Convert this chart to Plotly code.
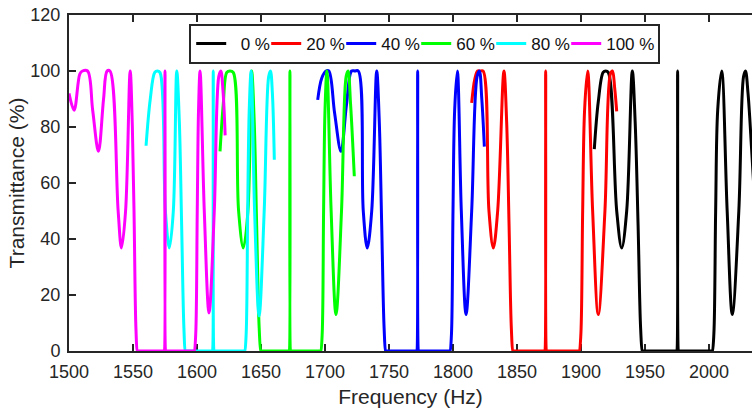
import plotly.graph_objects as go

# Transmittance spectra (%) versus frequency (Hz) for each filling ratio
labels = ["\u00a0\u00a00 %", "20 %", "40 %", "60 %", "80 %", "100 %"]
colors = ["#000000", "#ff0000", "#0000ff", "#00ff00", "#00ffff", "#ff00ff"]

freq_0 = [1910.4, 1913.5, 1917.3, 1919.3, 1921.3, 1927.9, 1931.8, 1935.7, 1940.1, 1942.3,
          1944.6, 1946.6, 1947.9, 1948.2, 1974.6, 1974.7, 1975.5, 1976.3, 1976.4, 2002.3,
          2002.6, 2003.8, 2005.2, 2006.8, 2009.9, 2014.2, 2018.2, 2023.3, 2027.0, 2028.5,
          2030.5, 2033.3, 2035.5]
trans_0 = [72.1, 89, 99.5, 100, 99.5, 50, 36.8, 50, 100, 82,
           45, 8, 0, 0, 0, 0, 100, 0, 0, 0,
           0, 6, 50, 86, 100, 50, 13, 50, 98, 100,
           92, 72, 55]

freq_20 = [1814.6, 1817.0, 1819.2, 1821.3, 1823.5, 1828.1, 1831.5, 1834.9, 1839.8, 1841.9,
           1843.8, 1845.6, 1846.8, 1847.1, 1871.5, 1871.6, 1872.4, 1873.2, 1873.3, 1898.4,
           1898.7, 1899.9, 1901.3, 1902.8, 1905.2, 1909.1, 1913.5, 1918.7, 1923.0, 1924.6,
           1926.3, 1927.9]
trans_20 = [88.6, 97, 100, 100, 100, 50, 36.8, 50, 100, 82,
            45, 8, 0, 0, 0, 0, 100, 0, 0, 0,
            0, 6, 50, 86, 100, 50, 13, 50, 99, 100,
            94, 85.6]

freq_40 = [1694.3, 1697.5, 1700.8, 1703.0, 1707.5, 1712.5, 1716.8, 1720.8, 1723.4, 1726.0,
           1729.9, 1733.0, 1736.5, 1740.4, 1742.4, 1744.3, 1746.2, 1747.4, 1747.7, 1771.5,
           1771.6, 1772.4, 1773.2, 1773.3, 1797.4, 1797.7, 1798.8, 1800.0, 1801.3, 1803.4,
           1806.5, 1810.2, 1814.6, 1818.8, 1820.6, 1822.5, 1824.5]
trans_40 = [89.7, 97.5, 100, 100, 85, 71.3, 88, 100, 100, 100,
            50, 36.8, 50, 100, 82, 45, 8, 0, 0, 0,
            0, 100, 0, 0, 0, 0, 6, 50, 86, 100,
            50, 13, 50, 98, 100, 90, 73]

freq_60 = [1618.0, 1620.5, 1623.3, 1625.8, 1628.3, 1632.5, 1636.2, 1639.8, 1642.7, 1644.7,
           1646.6, 1648.6, 1649.9, 1650.2, 1671.8, 1671.9, 1672.6, 1673.3, 1673.4, 1696.4,
           1696.7, 1697.8, 1698.9, 1700.0, 1701.5, 1704.8, 1708.6, 1712.9, 1716.5, 1718.0,
           1720.0, 1722.9]
trans_60 = [71.3, 88, 99.5, 100, 99.5, 50, 36.8, 50, 100, 82,
            45, 8, 0, 0, 0, 0, 100, 0, 0, 0,
            0, 6, 50, 86, 100, 50, 13, 50, 98, 100,
            88, 62.4]

freq_80 = [1560.2, 1563.5, 1567.0, 1569.0, 1571.0, 1575.3, 1578.4, 1581.5, 1584.2, 1586.2,
           1588.0, 1589.8, 1590.9, 1591.2, 1611.8, 1611.9, 1612.7, 1613.5, 1613.6, 1637.0,
           1637.3, 1638.4, 1639.6, 1640.8, 1642.3, 1645.0, 1648.5, 1652.5, 1656.0, 1657.4,
           1658.9, 1660.4]
trans_80 = [73.3, 90, 99.5, 100, 99.5, 50, 36.8, 50, 100, 82,
            45, 8, 0, 0, 0, 0, 100, 0, 0, 0,
            0, 6, 50, 86, 100, 50, 12.5, 50, 98, 100,
            92, 68.3]

freq_100 = [1500.0, 1504.0, 1508.5, 1510.5, 1514.5, 1518.5, 1523.0, 1527.0, 1529.8, 1532.0,
            1538.4, 1541.0, 1544.2, 1547.8, 1549.5, 1550.8, 1552.3, 1553.4, 1553.7, 1574.2,
            1574.3, 1575.0, 1575.7, 1575.8, 1597.6, 1597.9, 1599.0, 1600.2, 1601.2, 1602.4,
            1605.7, 1609.4, 1613.5, 1617.0, 1618.6, 1620.3, 1622.0]
trans_100 = [92, 86, 99, 100, 100, 86, 71.3, 90, 100, 100,
             50, 36.8, 50, 100, 80, 50, 8, 0, 0, 0,
             0, 100, 0, 0, 0, 0, 6, 50, 86, 100,
             50, 13.6, 50, 98, 100, 93, 77]

freqs = [freq_0, freq_20, freq_40, freq_60, freq_80, freq_100]
transs = [trans_0, trans_20, trans_40, trans_60, trans_80, trans_100]

x_ticks = list(range(1500, 2001, 50))
y_ticks = list(range(0, 121, 20))

FONT = "Liberation Sans, Arial, Helvetica, sans-serif"
INK = "#262626"

fig = go.Figure()
legend_widths = [30, 30, 30, 30, 30, 47]
for name, color, fx, ty, lw in zip(labels, colors, freqs, transs, legend_widths):
    fig.add_trace(go.Scatter(
        x=fx, y=ty, name=name, mode="lines",
        line=dict(color=color, width=3, shape="spline", smoothing=1),
        legendwidth=lw,
    ))

axis_common = dict(
    showline=True, linewidth=2, linecolor=INK,
    ticks="inside", ticklen=7, tickwidth=2, tickcolor=INK,
    showgrid=False, zeroline=False,
    tickfont=dict(family=FONT, size=18, color=INK),
)

fig.update_layout(
    width=752, height=411,
    margin=dict(l=69, r=0, t=15, b=60),
    paper_bgcolor="white", plot_bgcolor="white",
    showlegend=True,
    legend=dict(
        orientation="h", x=0.176, y=0.973, xanchor="left", yanchor="top",
        bgcolor="white", bordercolor=INK, borderwidth=2,
        font=dict(family=FONT, size=17, color="#111111"),
        itemclick=False,
    ),
    xaxis=dict(
        range=[1500, 2033.6], tickvals=x_ticks, mirror="ticks", layer="below traces",
        ticklabelstandoff=3,
        title=dict(text="Frequency (Hz)", font=dict(family=FONT, size=21, color=INK), standoff=9),
        **axis_common,
    ),
    yaxis=dict(
        range=[0, 120], tickvals=y_ticks, layer="below traces",
        ticklabelstandoff=3,
        title=dict(text="Transmittance (%)", font=dict(family=FONT, size=21, color=INK), standoff=0),
        **axis_common,
    ),
    yaxis2=dict(
        overlaying="y", side="right", range=[0, 120], tickvals=y_ticks,
        showline=False, showgrid=False, zeroline=False,
        ticks="inside", ticklen=7, tickwidth=2, tickcolor=INK,
        showticklabels=False, layer="below traces",
    ),
)

fig.write_html("out.html")
